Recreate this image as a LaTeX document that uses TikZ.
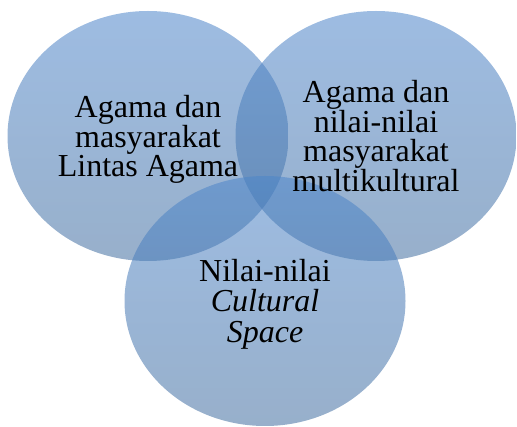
\documentclass[tikz,border=0pt]{standalone}
\usepackage{fontspec}
\setmainfont{Liberation Serif}
\usetikzlibrary{shapes.geometric}

\definecolor{vennTop}{RGB}{77,133,202}
\definecolor{vennBot}{RGB}{66,110,160}

\tikzset{
  venn/.style={ellipse, draw=none, inner sep=0pt,
    minimum width=281pt, minimum height=250pt,
    top color=vennTop, bottom color=vennBot, fill opacity=0.55},
  venntext/.style={align=center, text=black,
    font=\fontsize{32}{29}\selectfont}
}

\begin{document}
\begin{tikzpicture}[x=1pt, y=-1pt]
  \useasboundingbox (0,0) rectangle (517,427);

  % lingkaran
  \node[venn] (kiri)  at (148,136) {};
  \node[venn] (kanan) at (376,136) {};
  \node[venn] (bawah) at (265,301) {};

  % teks
  \node[venntext] (tkiri)  at ([yshift=-3pt]kiri)  {Agama dan\\masyarakat\\Lintas Agama};
  \node[venntext] (tkanan) at (kanan) {Agama dan\\nilai-nilai\\masyarakat\\multikultural};
  \node[venntext, font=\fontsize{32}{30.5}\selectfont] (tbawah) at ([yshift=-3pt]bawah)
    {Nilai-nilai\\\textit{Cultural}\\\textit{Space}};
\end{tikzpicture}
\end{document}
